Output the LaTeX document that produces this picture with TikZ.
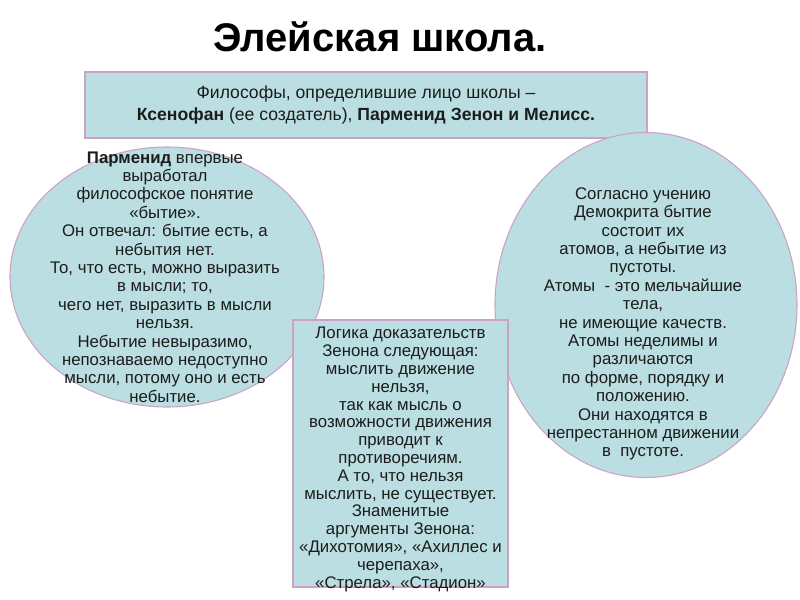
\documentclass[tikz,border=0pt]{standalone}
\usepackage{fontspec}
\setmainfont{Liberation Sans}
\usepackage{tikz}
\usetikzlibrary{shapes.geometric}
\definecolor{paleteal}{RGB}{186,222,226}
\definecolor{mauve}{RGB}{204,162,196}
\definecolor{inkgrey}{RGB}{28,28,28}

\begin{document}
\begin{tikzpicture}[x=0.75pt,y=-0.75pt,
  panel/.style={draw=mauve,fill=paleteal,line width=0.8pt,inner sep=0pt},
  body/.style={align=center,text=inkgrey,font=\fontsize{12.6}{13.8}\selectfont}]
\useasboundingbox (0,0) rectangle (800,600);
\node[font=\bfseries\fontsize{30}{34}\selectfont] (title) at (380,37) {Элейская школа.};
\node[panel,shape=rectangle,minimum width=421.5pt,minimum height=49.5pt] (heads) at (366,105) {};
\node[body,font=\fontsize{13.2}{16}\selectfont] (headstext) at (heads) {Философы, определившие лицо школы --\\
\textbf{Ксенофан} (ее создатель), \textbf{Парменид Зенон и Мелисс.}};
\node[panel,shape=ellipse,minimum width=235.5pt,minimum height=195pt] (parm) at (167,277) {};
\node[body] (parmtext) at (165,277) {\textbf{Парменид} впервые\\ выработал\\ философское понятие\\ «бытие».\\
Он отвечал: бытие есть, а\\ небытия нет.\\ То, что есть, можно выразить\\ в мысли; то,\\
чего нет, выразить в мысли\\ нельзя.\\ Небытие невыразимо,\\ непознаваемо недоступно\\
мысли, потому оно и есть\\ небытие.};
\node[panel,shape=ellipse,minimum width=226.5pt,minimum height=258.75pt] (demo) at (646,305) {};
\node[body] (demotext) at (643,324) {Согласно учению\\ Демокрита бытие\\ состоит их\\ атомов, а небытие из\\ пустоты.\\
Атомы\ \ - это мельчайшие\\ тела,\\ не имеющие качеств.\\ Атомы неделимы и\\ различаются\\
по форме, порядку и\\ положению.\\ Они находятся в\\ непрестанном движении\\ в\ \ пустоте.};
\node[panel,shape=rectangle,minimum width=161.25pt,minimum height=200.25pt] (zeno) at (400.5,453.5) {};
\node[body,font=\fontsize{12.6}{13.35}\selectfont] (zenotext) at (400.5,459.5) {Логика доказательств\\ Зенона следующая:\\ мыслить движение\\ нельзя,\\
так как мысль о\\ возможности движения\\ приводит к\\ противоречиям.\\ А то, что нельзя\\
мыслить, не существует.\\ Знаменитые\\ аргументы Зенона:\\ «Дихотомия», «Ахиллес и\\ черепаха»,\\ «Стрела», «Стадион»};
\end{tikzpicture}
\end{document}
